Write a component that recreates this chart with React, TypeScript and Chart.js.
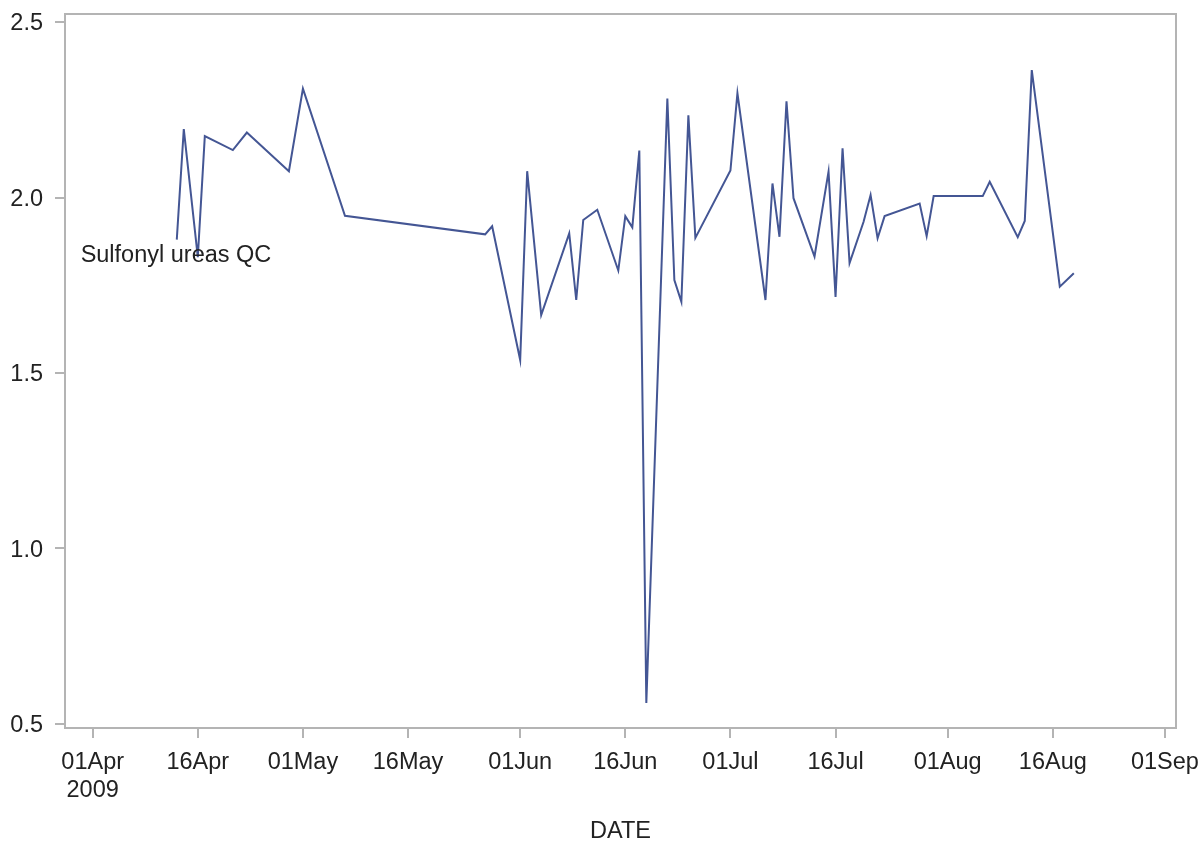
import React, { useEffect, useRef } from "react";
import { Chart, registerables } from "chart.js";

Chart.register(...registerables);

const dates: string[] = [
  "2009-04-13", "2009-04-14", "2009-04-16", "2009-04-17", "2009-04-21", "2009-04-23", "2009-04-29",
  "2009-05-01", "2009-05-07", "2009-05-27", "2009-05-28",
  "2009-06-01", "2009-06-02", "2009-06-04", "2009-06-08", "2009-06-09", "2009-06-10", "2009-06-12",
  "2009-06-15", "2009-06-16", "2009-06-17", "2009-06-18", "2009-06-19", "2009-06-22", "2009-06-23",
  "2009-06-24", "2009-06-25", "2009-06-26",
  "2009-07-01", "2009-07-02", "2009-07-06", "2009-07-07", "2009-07-08", "2009-07-09", "2009-07-10",
  "2009-07-13", "2009-07-15", "2009-07-16", "2009-07-17", "2009-07-18", "2009-07-20", "2009-07-21",
  "2009-07-22", "2009-07-23", "2009-07-28", "2009-07-29", "2009-07-30",
  "2009-08-06", "2009-08-07", "2009-08-11", "2009-08-12", "2009-08-13", "2009-08-17", "2009-08-19",
];

const values: number[] = [
  1.88, 2.195, 1.83, 2.175, 2.135, 2.185, 2.075,
  2.31, 1.948, 1.895, 1.918,
  1.537, 2.075, 1.665, 1.898, 1.708, 1.936, 1.965,
  1.792, 1.947, 1.915, 2.134, 0.56, 2.282, 1.765,
  1.703, 2.234, 1.885,
  2.077, 2.297, 1.708, 2.04, 1.888, 2.274, 1.998,
  1.832, 2.074, 1.717, 2.14, 1.813, 1.931, 2.007,
  1.884, 1.947, 1.983, 1.89, 2.004,
  2.004, 2.045, 1.887, 1.933, 2.363, 1.746, 1.784,
];

const xTickDates: string[] = [
  "2009-04-01", "2009-04-16", "2009-05-01", "2009-05-16", "2009-06-01", "2009-06-16",
  "2009-07-01", "2009-07-16", "2009-08-01", "2009-08-16", "2009-09-01",
];
const xTickLabels: (string | string[])[] = [
  ["01Apr", "2009"], "16Apr", "01May", "16May", "01Jun", "16Jun",
  "01Jul", "16Jul", "01Aug", "16Aug", "01Sep",
];
const yTicks: number[] = [0.5, 1.0, 1.5, 2.0, 2.5];

const seriesLabel = "Sulfonyl ureas QC";
const xAxisTitle = "DATE";

const ORIGIN = Date.UTC(2009, 3, 1);
const dayOf = (s: string) => {
  const [y, m, d] = s.split("-").map(Number);
  return (Date.UTC(y, m - 1, d) - ORIGIN) / 86400000;
};

const FONT = "'Liberation Sans', Arial, sans-serif";
const FONT_SIZE = 23.5;
const LINE_COLOR = "#445694";
const FRAME_COLOR = "#b4b4b4";
const TEXT_COLOR = "#222222";

export default function App() {
  const ref = useRef<HTMLCanvasElement | null>(null);

  useEffect(() => {
    if (!ref.current) return;
    const points = dates.map((d, i) => ({ x: dayOf(d), y: values[i] }));

    const framePlugin = {
      id: "frame",
      afterDraw(chart: any) {
        const { ctx, chartArea } = chart;
        ctx.save();
        ctx.strokeStyle = FRAME_COLOR;
        ctx.lineWidth = 2;
        ctx.strokeRect(chartArea.left, chartArea.top, chartArea.right - chartArea.left, chartArea.bottom - chartArea.top);
        const xs = chart.scales.x;
        const ys = chart.scales.y;
        ctx.fillStyle = TEXT_COLOR;
        ctx.font = `${FONT_SIZE}px ${FONT}`;
        ctx.textAlign = "left";
        ctx.textBaseline = "middle";
        ctx.fillText(seriesLabel, xs.getPixelForValue(-1.72), ys.getPixelForValue(1.836));
        ctx.restore();
      },
    };

    const chart = new Chart(ref.current, {
      type: "line",
      data: {
        datasets: [
          {
            label: seriesLabel,
            data: points,
            borderColor: LINE_COLOR,
            borderWidth: 2,
            pointRadius: 0,
            tension: 0,
            fill: false,
          },
        ],
      },
      options: {
        responsive: false,
        animation: false,
        layout: { padding: { top: 14, right: 27, left: 0, bottom: 0 } },
        plugins: { legend: { display: false }, tooltip: { enabled: false } },
        scales: {
          x: {
            type: "linear",
            min: -3.95,
            max: 154.58,
            border: { display: false },
            grid: { drawOnChartArea: false, drawTicks: true, tickLength: 10, color: FRAME_COLOR, lineWidth: 2 },
            afterBuildTicks: (scale: any) => {
              scale.ticks = xTickDates.map((d) => ({ value: dayOf(d) }));
            },
            afterFit: (scale: any) => {
              scale.height = 116;
              scale.paddingLeft = 0;
              scale.paddingRight = 0;
            },
            ticks: {
              autoSkip: false,
              maxRotation: 0,
              minRotation: 0,
              padding: 11,
              color: TEXT_COLOR,
              font: { family: FONT, size: FONT_SIZE, lineHeight: 1.17 },
              callback: (v: any) => {
                const i = xTickDates.findIndex((d) => dayOf(d) === v);
                return i >= 0 ? xTickLabels[i] : "";
              },
            },
            title: {
              display: true,
              text: xAxisTitle,
              color: TEXT_COLOR,
              font: { family: FONT, size: FONT_SIZE },
              padding: { top: 0, bottom: -2 },
            },
          },
          y: {
            type: "linear",
            min: 0.4886,
            max: 2.5228,
            border: { display: false },
            grid: { drawOnChartArea: false, drawTicks: true, tickLength: 10, color: FRAME_COLOR, lineWidth: 2 },
            afterBuildTicks: (scale: any) => {
              scale.ticks = yTicks.map((v) => ({ value: v }));
            },
            afterFit: (scale: any) => {
              scale.width = 65;
              scale.paddingTop = 0;
              scale.paddingBottom = 0;
            },
            ticks: {
              padding: 12,
              labelOffset: 2,
              color: TEXT_COLOR,
              font: { family: FONT, size: FONT_SIZE },
              callback: (v: any) => Number(v).toFixed(1),
            },
          },
        },
      },
      plugins: [framePlugin],
    } as any);

    return () => chart.destroy();
  }, []);

  return (
    <div style={{ position: "absolute", left: 0, top: 0, width: 1203, height: 844, background: "#fff" }}>
      <canvas ref={ref} width={1203} height={844} style={{ display: "block" }} />
    </div>
  );
}
